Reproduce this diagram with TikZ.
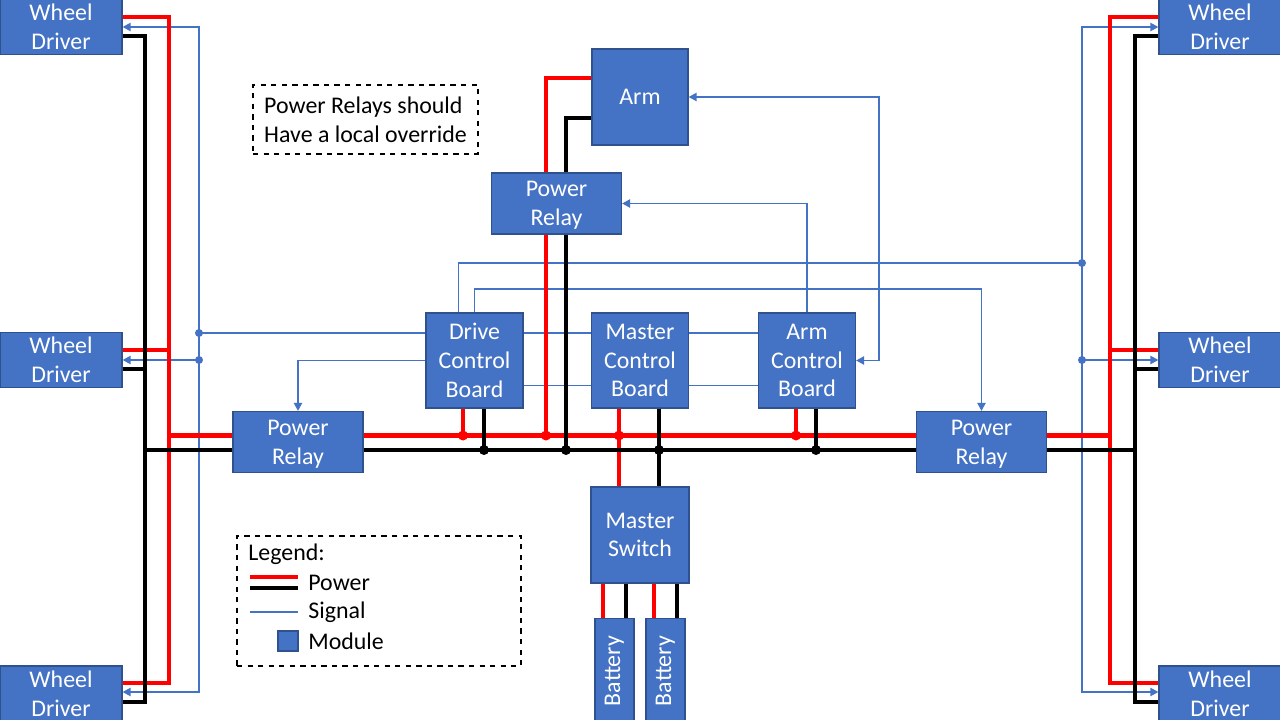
\documentclass[tikz,border=0pt]{standalone}
\usepackage{fontspec}
\setmainfont{Carlito}
\usetikzlibrary{calc,arrows.meta}
\definecolor{boxblue}{HTML}{4472C4}
\definecolor{boxline}{HTML}{2F528F}

\begin{document}
\begin{tikzpicture}[x=0.2mm, y=-0.2mm, >={Triangle[length=1.6mm,width=1.6mm]},
    font=\fontsize{13.6}{16.4}\selectfont,
    box/.style={draw=boxline, line width=0.6pt, fill=boxblue, text=white, align=center, inner sep=0pt},
    wheel/.style={box, minimum width=24.4mm, minimum height=11mm},
    relay/.style={box, minimum width=26mm, minimum height=12.2mm, text depth=0pt},
    board/.style={box, minimum width=19.4mm, minimum height=19mm},
    cell/.style={box, minimum width=7.8mm, minimum height=21mm},
    pwr/.style={draw=red, line width=2.3pt},
    gnd/.style={draw=black, line width=2.3pt},
    sig/.style={draw=boxblue, line width=1.1pt},
    note/.style={draw, dashed, line width=0.6pt, inner sep=0pt}]
    \useasboundingbox[fill=white] (0,0) rectangle (1280,720);
    % modules
    \node[wheel] (wd1) at (61,27) {Wheel\\Driver};
    \node[wheel] (wd2) at (61,360) {Wheel\\Driver};
    \node[wheel] (wd3) at (61,693.5) {Wheel\\Driver};
    \node[wheel] (wd4) at (1220,27) {Wheel\\Driver};
    \node[wheel] (wd5) at (1220,360) {Wheel\\Driver};
    \node[wheel] (wd6) at (1220,693.5) {Wheel\\Driver};
    \node[box, minimum width=19.2mm, minimum height=19.2mm] (arm) at (640,97) {Arm};
    \node[relay] (prt) at (556.5,203.5) {Power\\Relay};
    \node[relay] (prl) at (298,442) {Power\\Relay};
    \node[relay] (prr) at (981.5,442) {Power\\Relay};
    \node[board] (dcb) at (474.5,360.5) {Drive\\Control\\Board};
    \node[board] (mcb) at (640,360.5) {Master\\Control\\Board};
    \node[board] (acb) at (807,360.5) {Arm\\Control\\Board};
    \node[box, minimum width=19.6mm, minimum height=19.2mm] (msw) at (640,535) {Master\\Switch};
    \node[cell] (bat1) at (614.5,671) {\rotatebox{90}{Battery}};
    \node[cell] (bat2) at (665.5,671) {\rotatebox{90}{Battery}};
    \node[note, minimum width=45mm, minimum height=13.8mm, align=left] (memo) at (365.5,119.5) {Power Relays should\\Have a local override};
    % legend
    \node[note, minimum width=56.8mm, minimum height=26mm] (leg) at (379,601) {};
    \node[anchor=west, inner sep=0pt] (legt) at (248,554) {Legend:};
    \draw[pwr] (250,577) -- (298,577);
    \draw[gnd] (250,588) -- (298,588);
    \node[anchor=west, inner sep=0pt] (legp) at (308,583) {Power};
    \draw[sig] (250,612) -- (298,612);
    \node[anchor=west, inner sep=0pt] (legs) at (308,612) {Signal};
    \node[box, minimum width=4mm, minimum height=4mm] (legm) at (288,641) {};
    \node[anchor=west, inner sep=0pt] (legmt) at (308,641) {Module};
    % rails and junctions
    \coordinate (rl1) at (169,17);   \coordinate (rl2) at (169,350);
    \coordinate (rl3) at (169,683);  \coordinate (rl4) at (169,435.5);
    \coordinate (bl1) at (145,36);   \coordinate (bl2) at (145,369);
    \coordinate (bl3) at (145,702);  \coordinate (bl4) at (145,450);
    \coordinate (sl1) at (199,27);   \coordinate (sl2) at (199,333);
    \coordinate (sl3) at (199,360);  \coordinate (sl4) at (199,692);
    \coordinate (rr1) at (1110,17);  \coordinate (rr2) at (1110,350);
    \coordinate (rr3) at (1110,683); \coordinate (rr4) at (1110,435.5);
    \coordinate (br1) at (1135,36);  \coordinate (br2) at (1135,369);
    \coordinate (br3) at (1135,702); \coordinate (br4) at (1135,450);
    \coordinate (sr1) at (1082,27);  \coordinate (sr2) at (1082,263);
    \coordinate (sr3) at (1082,360); \coordinate (sr4) at (1082,692);
    \coordinate (dr) at (463,435.5); \coordinate (db) at (484,450);
    \coordinate (tr) at (546,435.5); \coordinate (tb) at (566,450);
    \coordinate (mr) at (619,435.5); \coordinate (mb) at (659,450);
    \coordinate (ar) at (796,435.5); \coordinate (ab) at (816,450);
    \coordinate (c1) at (603,0); \coordinate (c2) at (626,0);
    \coordinate (c3) at (654,0); \coordinate (c4) at (677,0);
    \coordinate (row) at (640,385.5);
    \coordinate (k1) at (879,200);
    \coordinate (k2) at (900,289);
    % signal
    \draw[sig,->] (sl2) -- (sl1) -- (wd1.east |- sl1);
    \draw[sig,->] (sl2) -- (sl4) -- (wd3.east |- sl4);
    \draw[sig,->] (sl3) -- (wd2.east |- sl3);
    \draw[sig] (dcb.west |- sl2) -- (sl2);
    \draw[sig,->] (dcb.west) -| (prl.north);
    \draw[sig] (dcb.east |- sl2) -- (mcb.west |- sl2);
    \draw[sig] (mcb.east |- sl2) -- (acb.west |- sl2);
    \draw[sig] (dcb.east |- row) -- (mcb.west |- row);
    \draw[sig] (mcb.east |- row) -- (acb.west |- row);
    \draw[sig] ($(dcb.north)+(-16,0)$) |- (sr2);
    \draw[sig,->] (dcb.north) |- (k2) -| (prr.north);
    \draw[sig,->] (acb.north) |- (prt.east);
    \draw[sig,<->] (arm.east) -| (k1) |- (acb.east);
    \draw[sig,->] (sr2) -- (sr1) -- (wd4.west |- sr1);
    \draw[sig,->] (sr2) -- (sr4) -- (wd6.west |- sr4);
    \draw[sig,->] (sr3) -- (wd5.west |- sr3);
    \fill[boxblue] (sl2) circle (0.8mm) (sl3) circle (0.8mm)
        (sr2) circle (0.8mm) (sr3) circle (0.8mm);
    % power
    \draw[pwr] (wd1.east |- rl1) -- (rl1) -- (rl3) -- (wd3.east |- rl3);
    \draw[pwr] (wd2.east |- rl2) -- (rl2);
    \draw[pwr] (rl4) -- (prl.west |- rl4);
    \draw[pwr] (prl.east |- rl4) -- (prr.west |- rl4);
    \draw[pwr] (prr.east |- rr4) -- (rr4);
    \draw[pwr] (wd4.west |- rr1) -- (rr1) -- (rr3) -- (wd6.west |- rr3);
    \draw[pwr] (wd5.west |- rr2) -- (rr2);
    \draw[pwr] (dcb.south -| dr) -- (dr);
    \draw[pwr] (acb.south -| ar) -- (ar);
    \draw[pwr] (prt.south -| tr) -- (tr);
    \draw[pwr] (prt.north -| tr) |- ($(arm.west)+(0,-19)$);
    \draw[pwr] (mcb.south -| mr) -- (msw.north -| mr);
    \draw[pwr] (msw.south -| c1) -- (bat1.north -| c1);
    \draw[pwr] (msw.south -| c3) -- (bat2.north -| c3);
    \draw[gnd] (wd1.east |- bl1) -- (bl1) -- (bl3) -- (wd3.east |- bl3);
    \draw[gnd] (wd2.east |- bl2) -- (bl2);
    \draw[gnd] (bl4) -- (prl.west |- bl4);
    \draw[gnd] (prl.east |- bl4) -- (prr.west |- bl4);
    \draw[gnd] (prr.east |- br4) -- (br4);
    \draw[gnd] (wd4.west |- br1) -- (br1) -- (br3) -- (wd6.west |- br3);
    \draw[gnd] (wd5.west |- br2) -- (br2);
    \draw[gnd] (dcb.south -| db) -- (db);
    \draw[gnd] (acb.south -| ab) -- (ab);
    \draw[gnd] (prt.south -| tb) -- (tb);
    \draw[gnd] (prt.north -| tb) |- ($(arm.west)+(0,21)$);
    \draw[gnd] (mcb.south -| mb) -- (msw.north -| mb);
    \draw[gnd] (msw.south -| c2) -- (bat1.north -| c2);
    \draw[gnd] (msw.south -| c4) -- (bat2.north -| c4);
    \fill[red] (dr) circle (1mm) (tr) circle (1mm) (mr) circle (1mm) (ar) circle (1mm);
    \fill[black] (db) circle (1mm) (tb) circle (1mm) (mb) circle (1mm) (ab) circle (1mm);
\end{tikzpicture}
\end{document}
